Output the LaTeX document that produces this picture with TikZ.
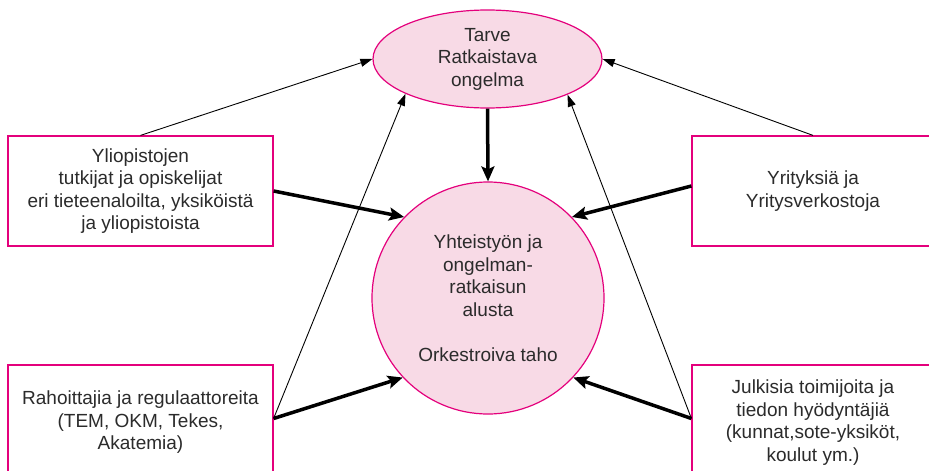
\documentclass[tikz,border=0pt]{standalone}
\usepackage{fontspec}
\setmainfont{Liberation Sans}
\usetikzlibrary{arrows.meta,shapes.geometric}
\definecolor{rim}{HTML}{E4007C}
\definecolor{blush}{HTML}{F8DAE6}
\definecolor{ink}{HTML}{2B2B2B}
\begin{document}
\begin{tikzpicture}[x=1pt,y=-1pt,
  txt/.style={text=ink, font=\fontsize{19}{22.5}\selectfont, align=center},
  actor/.style={draw=rim, line width=1.2pt, fill=white, rectangle, inner sep=0pt, txt},
  focus/.style={draw=rim, line width=1.2pt, fill=blush, inner sep=0pt, txt},
  feed/.style={line width=0.9pt, -{Triangle[length=12pt,width=8pt]}},
  flow/.style={line width=3.5pt, -{Stealth[length=15pt,width=13pt,inset=3pt]}}
]
\useasboundingbox (0,0) rectangle (929,471);
\clip (0,0) rectangle (929,471);

% central problem and platform
\node[focus, ellipse, minimum width=229pt, minimum height=98pt] (need) at (487.5,59)
  {Tarve\\Ratkaistava\\ongelma};
\node[focus, circle, minimum size=232pt] (hub) at (488,298)
  {Yhteistyön ja\\ongelman-\\ratkaisun\\alusta\\[22.5pt]Orkestroiva taho};

% surrounding actors
\node[actor, minimum width=265pt, minimum height=110pt] (uni) at (140.5,191)
  {Yliopistojen\\tutkijat ja opiskelijat\\eri tieteenaloilta, yksiköistä\\ja yliopistoista};
\node[actor, minimum width=242pt, minimum height=110pt] (firms) at (813,191)
  {Yrityksiä ja\\Yritysverkostoja};
\node[actor, minimum width=265pt, minimum height=115pt] (funders) at (140.5,422.5)
  {Rahoittajia ja regulaattoreita\\(TEM, OKM, Tekes,\\Akatemia)};
\node[actor, minimum width=242pt, minimum height=115pt] (public) at (813,422.5)
  {Julkisia toimijoita ja\\tiedon hyödyntäjiä\\(kunnat,sote-yksiköt,\\koulut ym.)};

% thin links towards the need
\draw[feed] (uni.north) -- (need.west);
\draw[feed] (firms.north) -- (need.east);
\draw[feed] ([yshift=4pt]funders.east) -- (need.203.5);
\draw[feed] ([yshift=4pt]public.west) -- (need.336.8);

% thick links towards the platform
\draw[flow] (need.south) -- (hub.north);
\draw[flow] (uni.east) -- (hub.136);
\draw[flow] ([yshift=5pt]firms.west) -- (hub.44);
\draw[flow] ([yshift=4pt]funders.east) -- (hub.223);
\draw[flow] ([yshift=4pt]public.west) -- (hub.317);
\end{tikzpicture}
\end{document}
